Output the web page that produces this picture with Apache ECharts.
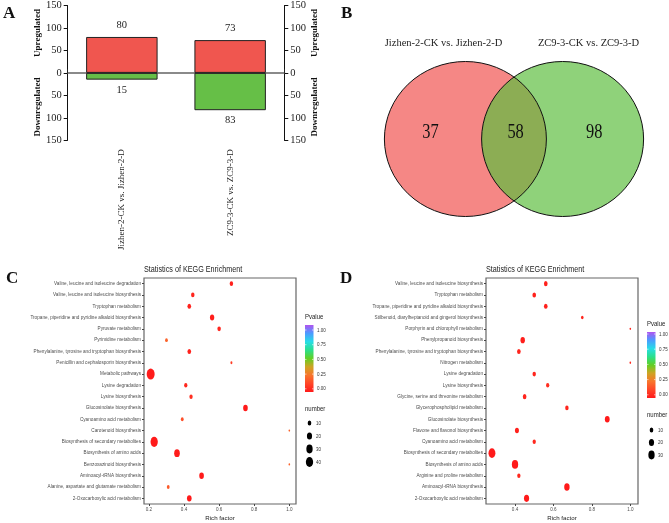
<!DOCTYPE html>
<html><head><meta charset="utf-8">
<script src="https://cdn.jsdelivr.net/npm/echarts@6/dist/echarts.min.js"></script>
<style>html,body{margin:0;padding:0;background:#fff}#c{width:669px;height:523px}</style>
</head><body><div id="c"></div>
<script>
// ---------- DATA ----------
// Panel A
const degCategories = ['Jizhen-2-CK vs. Jizhen-2-D', 'ZC9-3-CK vs. ZC9-3-D'];
const upregulated = [80, 73];
const downregulated = [15, 83];
const degTicks = [-150, -100, -50, 0, 50, 100, 150];

// Panel B
const vennSets = ['Jizhen-2-CK vs. Jizhen-2-D', 'ZC9-3-CK vs. ZC9-3-D'];
const vennCounts = [37, 58, 98]; // only set 1, shared, only set 2

// Panel C (top to bottom)
const keggC_pathways = [
  'Valine, leucine and isoleucine degradation',
  'Valine, leucine and isoleucine biosynthesis',
  'Tryptophan metabolism',
  'Tropane, piperidine and pyridine alkaloid biosynthesis',
  'Pyruvate metabolism',
  'Pyrimidine metabolism',
  'Phenylalanine, tyrosine and tryptophan biosynthesis',
  'Penicillin and cephalosporin biosynthesis',
  'Metabolic pathways',
  'Lysine degradation',
  'Lysine biosynthesis',
  'Glucosinolate biosynthesis',
  'Cyanoamino acid metabolism',
  'Carotenoid biosynthesis',
  'Biosynthesis of secondary metabolites',
  'Biosynthesis of amino acids',
  'Benzoxazinoid biosynthesis',
  'Aminoacyl-tRNA biosynthesis',
  'Alanine, aspartate and glutamate metabolism',
  '2-Oxocarboxylic acid metabolism'
];
const keggC_rich   = [0.67, 0.45, 0.43, 0.56, 0.60, 0.30, 0.43, 0.67, 0.21, 0.41, 0.44, 0.75, 0.39, 1.00, 0.23, 0.36, 1.00, 0.50, 0.31, 0.43];
const keggC_pvalue = [0.02, 0.03, 0.02, 0.01, 0.03, 0.20, 0.02, 0.10, 0.005, 0.04, 0.06, 0.001, 0.15, 0.20, 0.001, 0.005, 0.20, 0.001, 0.18, 0.001];
const keggC_number = [9, 9, 10, 14, 9, 6, 10, 3, 48, 8, 8, 16, 6, 2, 40, 24, 2, 16, 6, 16];
const keggC_sizeBreaks = [10, 20, 30, 40];

// Panel D (top to bottom)
const keggD_pathways = [
  'Valine, leucine and isoleucine biosynthesis',
  'Tryptophan metabolism',
  'Tropane, piperidine and pyridine alkaloid biosynthesis',
  'Stilbenoid, diarylheptanoid and gingerol biosynthesis',
  'Porphyrin and chlorophyll metabolism',
  'Phenylpropanoid biosynthesis',
  'Phenylalanine, tyrosine and tryptophan biosynthesis',
  'Nitrogen metabolism',
  'Lysine degradation',
  'Lysine biosynthesis',
  'Glycine, serine and threonine metabolism',
  'Glycerophospholipid metabolism',
  'Glucosinolate biosynthesis',
  'Flavone and flavonol biosynthesis',
  'Cyanoamino acid metabolism',
  'Biosynthesis of secondary metabolites',
  'Biosynthesis of amino acids',
  'Arginine and proline metabolism',
  'Aminoacyl-tRNA biosynthesis',
  '2-Oxocarboxylic acid metabolism'
];
const keggD_rich   = [0.56, 0.50, 0.56, 0.75, 1.00, 0.44, 0.42, 1.00, 0.50, 0.57, 0.45, 0.67, 0.88, 0.41, 0.50, 0.28, 0.40, 0.42, 0.67, 0.46];
const keggD_pvalue = [0.02, 0.02, 0.02, 0.03, 0.04, 0.01, 0.03, 0.04, 0.03, 0.06, 0.03, 0.03, 0.001, 0.02, 0.04, 0.001, 0.001, 0.04, 0.001, 0.001];
const keggD_number = [10, 10, 10, 5, 2, 15, 10, 2, 9, 8, 10, 9, 17, 12, 8, 36, 30, 8, 22, 20];
const keggD_sizeBreaks = [10, 20, 30];

const pvalueTicks = [1.00, 0.75, 0.50, 0.25, 0.00];
const richTicks = [0.2, 0.4, 0.6, 0.8, 1.0];

// ---------- STYLE / LAYOUT ----------
function hasFont(name){
  const c = document.createElement('canvas').getContext('2d');
  const s = 'abcdefghijklmnopqrstuvwxyz ABCDEFGHIJ 0123456789';
  c.font = '20px monospace'; const w0 = c.measureText(s).width;
  c.font = "20px '" + name + "', monospace"; return Math.abs(c.measureText(s).width - w0) > 0.5;
}
const SERIF = "'Liberation Serif', 'Times New Roman', serif";
const SANS = "'Liberation Sans', Arial, sans-serif";
const narrowOK = hasFont('Liberation Sans Narrow');
const AXF = narrowOK ? "'Liberation Sans Narrow', " + SANS : SANS;
const AXK = narrowOK ? 1 : 0.82;

const PAL = ['#ff1a1a','#ff4628','#f8752c','#cfa324','#62cf24','#2bdf8c','#27dde6','#4b9bff','#b054f0'];
const RED = '#f0564f', GREEN = '#66bf47';
const ELL = 'path://M0,50A50,50,0,1,1,100,50A50,50,0,1,1,0,50Z';
const dotH = n => 1.6 * Math.sqrt(n);
const dotSize = n => [dotH(n) * 0.72, dotH(n)];

const G = {
  A: {left: 67.7, top: 5, width: 216.6, height: 135.3},
  B: {left: 384.4, top: 46, width: 259.2, height: 186},
  C: {left: 144, top: 278, width: 152, height: 226},
  D: {left: 486, top: 278, width: 152, height: 226}
};
const VENN_X = [-0.6, 0.6];
const VENN_FILL = ['rgb(245,135,133)', 'rgba(93,190,62,0.69)'];
const VENN_TEXT_X = [-1.03, 0.02, 0.99];
const VENN_NAME_X = [-0.87, 0.92];

function ellipsePath(cx, cy, rx, ry){
  return 'M' + (cx - rx) + ',' + cy + 'A' + rx + ',' + ry + ',0,1,1,' + (cx + rx) + ',' + cy +
         'A' + rx + ',' + ry + ',0,1,1,' + (cx - rx) + ',' + cy + 'Z';
}

function keggAxes(grid, cats, xmin, xmax){
  return {
    x: {gridIndex: grid, type: 'value', min: xmin, max: xmax, splitLine: {show: false},
        axisLine: {show: false},
        axisTick: {show: true, length: 2, lineStyle: {color: '#444'}, customValues: richTicks},
        axisLabel: {customValues: richTicks, formatter: v => v.toFixed(1), fontSize: 5.6 * AXK, color: '#4d4d4d', margin: 3, fontFamily: AXF},
        name: 'Rich factor', nameLocation: 'middle', nameGap: 11,
        nameTextStyle: {fontSize: 7.5 * AXK, color: '#222', fontFamily: AXF}},
    y: {gridIndex: grid, type: 'category', data: cats, inverse: true,
        axisLine: {show: false},
        axisTick: {show: true, length: 2, alignWithLabel: true, lineStyle: {color: '#444'}},
        axisLabel: {fontSize: 5.7 * AXK, color: '#4d4d4d', margin: 3, interval: 0, fontFamily: AXF},
        splitLine: {show: false}}
  };
}
const axC = keggAxes(2, keggC_pathways, 0.172, 1.038);
const axD = keggAxes(3, keggD_pathways, 0.249, 1.04);

function keggSeries(idx, rich, pv, num){
  return {type: 'scatter', xAxisIndex: idx, yAxisIndex: idx, symbol: ELL,
    data: rich.map((r, i) => [r, i, pv[i], num[i]]),
    symbolSize: v => dotSize(v[3]), itemStyle: {opacity: 1}, silent: true, animation: false};
}

// ---------- GRAPHIC (letters, titles, legends) ----------
const graphics = [];
function txt(x, y, text, o){
  graphics.push(Object.assign({type: 'text', x: x, y: y, style: Object.assign({text: text, fill: '#222'}, o.style || {})}, o.el || {}));
}
const letterStyle = {font: 'bold 17px ' + SERIF, fill: '#111', verticalAlign: 'middle'};
txt(3, 14, 'A', {style: letterStyle});
txt(341, 14, 'B', {style: letterStyle});
txt(6, 279, 'C', {style: letterStyle});
txt(340, 279, 'D', {style: letterStyle});

// Panel A side titles
[[38, 33, 'Upregulated'], [38, 107, 'Downregulated'], [315, 33, 'Upregulated'], [315, 107, 'Downregulated']].forEach(t => {
  txt(t[0], t[1], t[2], {style: {font: 'bold 9px ' + SERIF, align: 'center', verticalAlign: 'middle', fill: '#111'}, el: {rotation: Math.PI / 2}});
});

// KEGG titles
txt(144, 269, 'Statistics of KEGG Enrichment', {style: {font: '9.5px ' + SANS, verticalAlign: 'middle', fill: '#222'}, el: {scaleX: 0.76}});
txt(486, 269, 'Statistics of KEGG Enrichment', {style: {font: '9.5px ' + SANS, verticalAlign: 'middle', fill: '#222'}, el: {scaleX: 0.76}});

function legend(x0, yTitle, barTop, barBot, lblTop, lblStep, yNum, dotY0, dotStep, breaks){
  txt(x0, yTitle, 'Pvalue', {style: {font: '8px ' + SANS, verticalAlign: 'middle'}, el: {scaleX: 0.75}});
  graphics.push({type: 'rect', shape: {x: x0, y: barTop, width: 8.5, height: barBot - barTop},
    style: {fill: new echarts.graphic.LinearGradient(0, 1, 0, 0, PAL.map((c, i) => ({offset: i / (PAL.length - 1), color: c})))}});
  pvalueTicks.forEach((v, i) => {
    const y = lblTop + i * lblStep;
    txt(x0 + 12, y, v.toFixed(2), {style: {font: '6px ' + SANS, verticalAlign: 'middle', fill: '#333'}, el: {scaleX: 0.75}});
    graphics.push({type: 'line', shape: {x1: x0, y1: y, x2: x0 + 1.5, y2: y}, style: {stroke: '#fff', lineWidth: 0.6}});
    graphics.push({type: 'line', shape: {x1: x0 + 7, y1: y, x2: x0 + 8.5, y2: y}, style: {stroke: '#fff', lineWidth: 0.6}});
  });
  txt(x0, yNum, 'number', {style: {font: '8px ' + SANS, verticalAlign: 'middle'}, el: {scaleX: 0.75}});
  breaks.forEach((n, i) => {
    const y = dotY0 + i * dotStep, s = dotSize(n);
    graphics.push({type: 'circle', x: x0 + 4.5, y: y, scaleY: s[1] / s[0], shape: {cx: 0, cy: 0, r: s[0] / 2}, style: {fill: '#000'}});
    txt(x0 + 11, y, String(n), {style: {font: '6px ' + SANS, verticalAlign: 'middle', fill: '#333'}, el: {scaleX: 0.75}});
  });
}
legend(305, 317, 325, 392, 330, 14.7, 409, 423, 13, keggC_sizeBreaks);
legend(647, 324, 332, 398, 334, 15.2, 415, 430, 12.5, keggD_sizeBreaks);

// ---------- CHART ----------
const chart = echarts.init(document.getElementById('c'));
const option = {
  backgroundColor: '#fff',
  animation: false,
  grid: [
    Object.assign({show: false}, G.A),
    Object.assign({show: false}, G.B),
    Object.assign({show: true, borderColor: '#666', borderWidth: 1.2, backgroundColor: '#fff'}, G.C),
    Object.assign({show: true, borderColor: '#666', borderWidth: 1.2, backgroundColor: '#fff'}, G.D)
  ],
  xAxis: [
    {gridIndex: 0, type: 'category', data: degCategories,
     axisLine: {onZero: true, onZeroAxisIndex: 0, lineStyle: {color: '#8a8a8a', width: 2}},
     axisTick: {show: true, inside: true, length: 4, lineStyle: {color: '#222'}},
     axisLabel: {show: false}},
    {gridIndex: 0, type: 'category', data: degCategories, position: 'bottom',
     axisLine: {show: false, onZero: false}, axisTick: {show: false},
     axisLabel: {rotate: 90, margin: 9, fontSize: 9, fontFamily: SERIF, color: '#222', interval: 0}},
    {gridIndex: 1, type: 'value', min: -1.6, max: 1.6, show: false},
    axC.x, axD.x
  ],
  yAxis: [
    {gridIndex: 0, type: 'value', min: degTicks[0], max: degTicks[degTicks.length - 1], interval: 50, position: 'left',
     axisLine: {show: true, lineStyle: {color: '#111'}}, axisTick: {show: true, length: 4, lineStyle: {color: '#111'}},
     axisLabel: {formatter: v => Math.abs(v), fontSize: 10.5, fontFamily: SERIF, color: '#222', margin: 6},
     splitLine: {show: false}},
    {gridIndex: 0, type: 'value', min: degTicks[0], max: degTicks[degTicks.length - 1], interval: 50, position: 'right',
     axisLine: {show: true, lineStyle: {color: '#111'}}, axisTick: {show: true, length: 4, lineStyle: {color: '#111'}},
     axisLabel: {formatter: v => Math.abs(v), fontSize: 10.5, fontFamily: SERIF, color: '#222', margin: 6},
     splitLine: {show: false}},
    {gridIndex: 1, type: 'value', min: -1.2, max: 1.2, show: false},
    axC.y, axD.y
  ],
  visualMap: {type: 'continuous', show: false, seriesIndex: [0, 1], dimension: 2, min: 0, max: 1, inRange: {color: PAL}},
  series: [
    keggSeries(3, keggC_rich, keggC_pvalue, keggC_number),
    keggSeries(4, keggD_rich, keggD_pvalue, keggD_number),
    {type: 'bar', xAxisIndex: 0, yAxisIndex: 0, stack: 'deg', barWidth: '66%', data: upregulated,
     itemStyle: {color: RED, borderColor: '#222', borderWidth: 1},
     label: {show: true, position: 'top', distance: 6, fontSize: 10.5, fontFamily: SERIF, color: '#222'}},
    {type: 'bar', xAxisIndex: 0, yAxisIndex: 0, stack: 'deg', barWidth: '66%', data: downregulated.map(v => -v),
     itemStyle: {color: GREEN, borderColor: '#222', borderWidth: 1},
     label: {show: true, position: 'bottom', distance: 5, fontSize: 10.5, fontFamily: SERIF, color: '#222', formatter: p => Math.abs(p.value)}},
    {type: 'custom', xAxisIndex: 2, yAxisIndex: 2, clip: false, silent: true,
     data: vennSets.map((s, i) => [VENN_X[i], 0, i]),
     renderItem: (p, api) => {
       const c = api.coord([api.value(0), api.value(1)]); const s = api.size([1, 1]);
       return {type: 'path', shape: {pathData: ellipsePath(c[0], c[1], s[0], s[1])}, style: {fill: VENN_FILL[api.value(2)]}};
     }},
    {type: 'custom', xAxisIndex: 2, yAxisIndex: 2, clip: false, silent: true,
     data: vennSets.map((s, i) => [VENN_X[i], 0, i]),
     renderItem: (p, api) => {
       const c = api.coord([api.value(0), api.value(1)]); const s = api.size([1, 1]);
       return {type: 'path', shape: {pathData: ellipsePath(c[0], c[1], s[0], s[1])}, style: {fill: 'none', stroke: '#111', lineWidth: 1}};
     }},
    {type: 'custom', xAxisIndex: 2, yAxisIndex: 2, clip: false, silent: true,
     data: vennCounts.map((n, i) => [VENN_TEXT_X[i], 0.08, n]),
     renderItem: (p, api) => {
       const c = api.coord([api.value(0), api.value(1)]);
       return {type: 'text', x: c[0], y: c[1], scaleX: 0.82,
               style: {text: String(api.value(2)), fontSize: 20, fontFamily: SERIF, fill: '#111', align: 'center', verticalAlign: 'middle'}};
     }},
    {type: 'custom', xAxisIndex: 2, yAxisIndex: 2, clip: false, silent: true,
     data: vennSets.map((s, i) => [VENN_NAME_X[i], 1.23, i]),
     renderItem: (p, api) => {
       const c = api.coord([api.value(0), api.value(1)]);
       return {type: 'text', x: c[0], y: c[1],
               style: {text: vennSets[api.value(2)], fontSize: 10.5, fontFamily: SERIF, fill: '#222', align: 'center', verticalAlign: 'middle'}};
     }}
  ],
  graphic: graphics
};
chart.setOption(option);
</script>
</body></html>
